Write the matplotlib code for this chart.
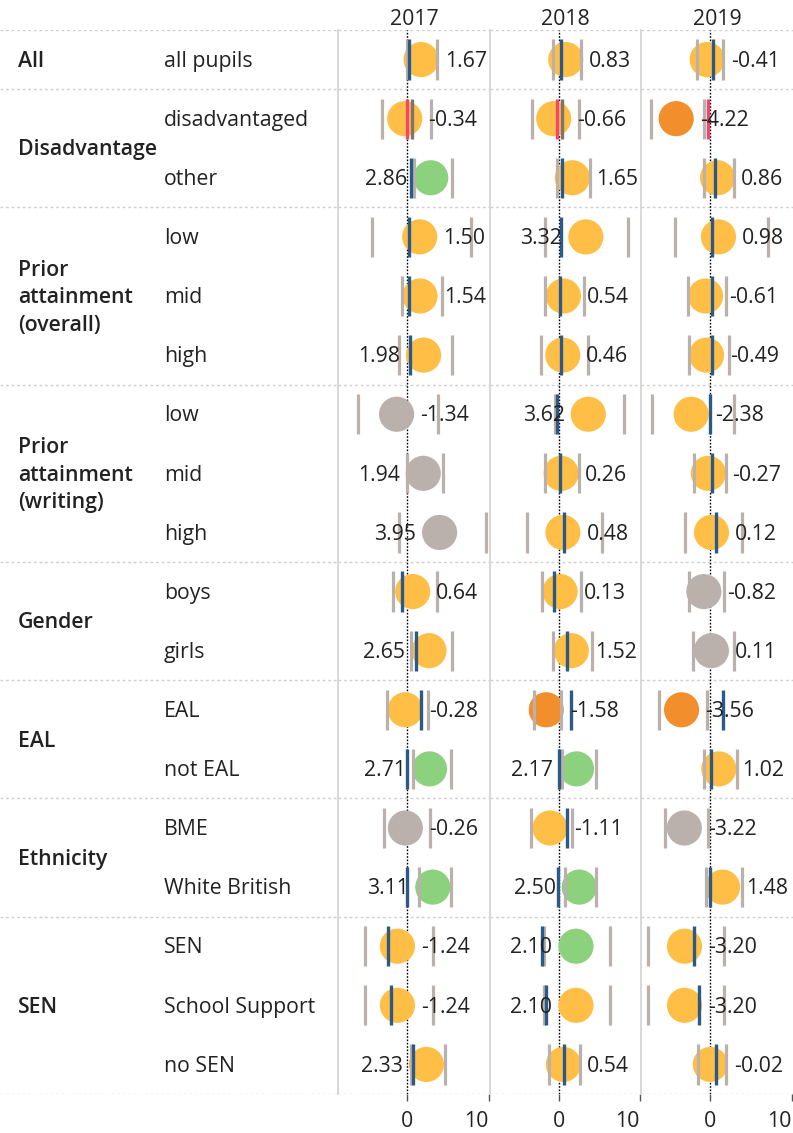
import numpy as np
import matplotlib
matplotlib.use("Agg")
import matplotlib.pyplot as plt

plt.rcParams['font.family'] = ['Open Sans', 'DejaVu Sans']

# %% data
groups = ["All", "Disadvantage", "Prior\nattainment\n(overall)", "Prior\nattainment\n(writing)",
          "Gender", "EAL", "Ethnicity", "SEN"]
group_sizes = [1, 2, 3, 3, 2, 2, 2, 3]
subgroups = ["all pupils", "disadvantaged", "other", "low", "mid", "high", "low", "mid", "high",
             "boys", "girls", "EAL", "not EAL", "BME", "White British", "SEN", "School Support", "no SEN"]
years = ["2017", "2018", "2019"]

values = {
    "2017": [1.67, -0.34, 2.86, 1.50, 1.54, 1.98, -1.34, 1.94, 3.95, 0.64, 2.65, -0.28, 2.71, -0.26, 3.11, -1.24, -1.24, 2.33],
    "2018": [0.83, -0.66, 1.65, 3.32, 0.54, 0.46, 3.62, 0.26, 0.48, 0.13, 1.52, -1.58, 2.17, -1.11, 2.50, 2.10, 2.10, 0.54],
    "2019": [-0.41, -4.22, 0.86, 0.98, -0.61, -0.49, -2.38, -0.27, 0.12, -0.82, 0.11, -3.56, 1.02, -3.22, 1.48, -3.20, -3.20, -0.02],
}
ci_low = {
    "2017": [-0.1, -3.1, 0.74, -4.34, -0.62, -1.1, -6.07, 0.0, -1.1, -1.77, 0.42, -2.48, 0.7, -2.89, 1.45, -5.25, -5.25, 0.41],
    "2018": [-0.74, -3.35, -0.2, -1.7, -1.7, -2.28, -0.54, -1.7, -4.0, -2.15, -0.79, -3.06, 0.33, -3.47, 0.78, -1.86, -1.86, -1.28],
    "2019": [-1.69, -7.35, -0.83, -4.42, -2.81, -2.64, -7.15, -2.07, -3.18, -2.64, -2.19, -6.28, -0.83, -5.54, -0.54, -7.64, -7.64, -1.57],
}
ci_high = {
    "2017": [3.63, 2.89, 5.45, 7.85, 4.2, 5.45, 3.72, 4.34, 9.63, 3.6, 5.45, 2.48, 5.37, 2.77, 5.37, 3.17, 3.17, 4.66],
    "2018": [2.77, 2.48, 3.8, 8.5, 3.05, 3.55, 8.1, 2.43, 5.28, 2.72, 4.04, 0.25, 4.58, 1.61, 4.58, 6.37, 6.37, 2.65],
    "2019": [1.53, -0.83, 2.93, 7.02, 1.94, 2.27, 2.89, 1.94, 3.93, 1.65, 2.89, -0.41, 3.3, -0.29, 3.93, 1.65, 1.65, 1.94],
}
nan = np.nan
national = {
    "2017": [0.16, nan, 0.45, 0.2, 0.2, 0.25, nan, nan, nan, -0.62, 0.99, 1.61, -0.08, nan, -0.08, -2.4, -2.03, 0.7],
    "2018": [0.21, nan, 0.33, 0.2, 0.16, 0.2, -0.25, 0.16, 0.57, -0.66, 0.95, 1.44, 0.0, 0.99, -0.17, -2.1, -1.6, 0.62],
    "2019": [0.29, nan, 0.58, 0.17, 0.17, 0.17, -0.08, 0.17, 0.7, nan, nan, 1.53, 0.08, nan, -0.08, -2.07, -1.45, 0.62],
}
# disadvantaged row only
dis_pink = {"2017": -0.05, "2018": -0.2, "2019": -0.33}
dis_dark = {"2017": 0.5, "2018": 0.33, "2019": nan}

sig = {
    "2017": "Y Y G Y Y Y N N N Y Y Y G N G Y Y Y".split(),
    "2018": "Y Y Y Y Y Y Y Y Y Y Y O G Y G G Y Y".split(),
    "2019": "Y O Y Y Y Y Y Y Y N N O Y N Y Y Y Y".split(),
}
sig_colors = {"Y": "#ffbe45", "O": "#f28e2b", "G": "#8cd17d", "N": "#bab0ac"}

# %% layout (pixels of a 793x1133 canvas)
W, H = 793, 1133
top, bottom = 30, 1094
col_edges = [338, 490, 641, 793]
n_rows = len(subgroups)
rows = np.arange(n_rows) + 0.5
bounds = np.concatenate([[0], np.cumsum(group_sizes)])
fs = 15.3

fig = plt.figure(figsize=(W / 100, H / 100), dpi=100)


def px_rect(x0, x1):
    return [x0 / W, 1 - bottom / H, (x1 - x0) / W, (bottom - top) / H]


sep_style = dict(color="#cfcfcf", lw=1, ls=(0, (2, 2)), zorder=0)
text_color = "#222222"

# left label panel
axl = fig.add_axes(px_rect(0, col_edges[0]))
axl.set_xlim(0, col_edges[0])
axl.set_ylim(n_rows, 0)
axl.axis("off")
for b in bounds:
    axl.axhline(b, **sep_style)
for g, a, b in zip(groups, bounds[:-1], bounds[1:]):
    axl.text(18, (a + b) / 2 + 0.03, g, ha="left", va="center", fontsize=fs,
             fontweight="semibold", color=text_color, linespacing=1.4)
for r, s in zip(rows, subgroups):
    axl.text(164, r + 0.03, s, ha="left", va="center", fontsize=fs, color=text_color)

half = 0.34
for i, y in enumerate(years):
    ax = fig.add_axes(px_rect(col_edges[i], col_edges[i + 1]))
    ax.set_xlim(-8.55, 10.15)
    ax.set_ylim(n_rows, 0)
    for sp in ["top", "right", "bottom"]:
        ax.spines[sp].set_visible(False)
    ax.spines["left"].set_color("#d6d6d6")
    ax.spines["left"].set_linewidth(1.3)
    ax.set_yticks([])
    ax.set_xticks([0, 10])
    ax.set_xticklabels(["0", "10"])
    ax.get_xticklabels()[1].set_horizontalalignment("right")
    ax.tick_params(axis="x", length=5, width=1, color="#555555", labelsize=fs,
                   labelcolor=text_color, pad=7.5)
    ax.set_title(y, fontsize=fs, color=text_color, pad=3.5)

    for b in bounds:
        ax.axhline(b, **sep_style)
    ax.axvline(0, color="black", lw=1, ls=(0, (1.2, 1.2)), zorder=1)

    v = np.array(values[y])
    cols = [sig_colors[c] for c in sig[y]]
    ax.scatter(v, rows, s=640, c=cols, edgecolors="none", zorder=2)
    ax.vlines(ci_low[y], rows - half, rows + half, color="#bab0ac", lw=2.3, zorder=3)
    ax.vlines(ci_high[y], rows - half, rows + half, color="#bab0ac", lw=2.3, zorder=3)
    ax.vlines(national[y], rows - half, rows + half, color="#2c5a88", lw=2.4, zorder=4)
    ax.vlines(dis_dark[y], rows[1] - half, rows[1] + half, color="#7d7470", lw=2.4, zorder=4)
    ax.vlines(dis_pink[y], rows[1] - half, rows[1] + half, color="#f2466e", lw=2.4, zorder=4)

    for val, r in zip(v, rows):
        if val > 1.9:
            off, ha = -17, "right"
        else:
            off, ha = 17, "left"
        ax.annotate(f"{val:.2f}", (val, r + 0.03), xytext=(off, 0), textcoords="offset points",
                    ha=ha, va="center", fontsize=fs, color=text_color, zorder=5)

fig.savefig("out.png", dpi=100)
